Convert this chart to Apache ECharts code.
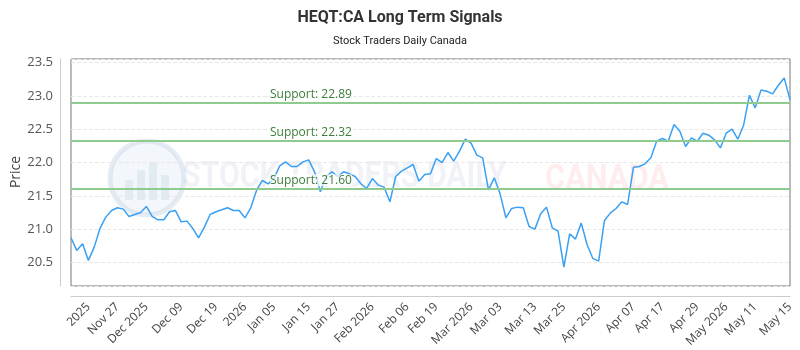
<!DOCTYPE html>
<html>
<head>
<meta charset="utf-8">
<title>HEQT:CA Long Term Signals</title>
<script src="https://cdn.jsdelivr.net/npm/echarts@6/dist/echarts.min.js"></script>
<style>
html, body { margin: 0; padding: 0; background: #fff; }
#main { width: 800px; height: 350px; }
</style>
</head>
<body>
<div id="main"></div>
<script>
// 价格数据 (one point per trading session)
var prices = [
    20.87, 20.68, 20.78, 20.53, 20.73, 21.01, 21.18, 21.28, 21.32, 21.30,
    21.19, 21.22, 21.25, 21.34, 21.19, 21.14, 21.14, 21.26, 21.28, 21.11,
    21.12, 21.01, 20.87, 21.03, 21.22, 21.26, 21.29, 21.32, 21.28, 21.28,
    21.17, 21.32, 21.58, 21.73, 21.68, 21.76, 21.95, 22.01, 21.94, 21.94,
    22.01, 22.04, 21.86, 21.56, 21.79, 21.86, 21.79, 21.86, 21.83, 21.79,
    21.68, 21.61, 21.76, 21.66, 21.63, 21.41, 21.79, 21.87, 21.92, 21.97,
    21.72, 21.82, 21.83, 22.06, 22.00, 22.15, 22.02, 22.17, 22.35, 22.29,
    22.11, 22.07, 21.59, 21.77, 21.53, 21.17, 21.31, 21.33, 21.32, 21.04,
    21.00, 21.23, 21.33, 21.02, 20.97, 20.43, 20.93, 20.85, 21.09, 20.77,
    20.56, 20.52, 21.13, 21.24, 21.31, 21.41, 21.37, 21.93, 21.94, 21.98,
    22.07, 22.32, 22.36, 22.32, 22.57, 22.47, 22.24, 22.37, 22.32, 22.44,
    22.41, 22.34, 22.22, 22.44, 22.50, 22.35, 22.56, 23.01, 22.82, 23.09,
    23.07, 23.03, 23.16, 23.27, 22.94
];

// x轴标签: which session carries which label
var tickLabels = ['2025', 'Nov 27', 'Dec 2025', 'Dec 09', 'Dec 19', '2026', 'Jan 05', 'Jan 15', 'Jan 27',
    'Feb 2026', 'Feb 06', 'Feb 19', 'Mar 2026', 'Mar 03', 'Mar 13', 'Mar 25', 'Apr 2026', 'Apr 07',
    'Apr 17', 'Apr 29', 'May 2026', 'May 11', 'May 15'];
var tickIndex = [3, 8, 13, 19, 25, 30, 35, 41, 46, 52, 58, 63, 69, 74, 80, 85, 91, 97, 102, 108, 113, 118, 124];

// 支撑位
var supports = [22.89, 22.32, 21.60];

var categories = prices.map(function (v, i) { return String(i); });

var myChart = echarts.init(document.getElementById('main'), null, { renderer: 'canvas' });

var option = {
    animation: false,
    backgroundColor: '#fff',
    title: {
        text: 'HEQT:CA Long Term Signals',
        subtext: 'Stock Traders Daily Canada',
        left: 'center',
        top: 5,
        itemGap: 10,
        textStyle: { fontFamily: 'Roboto', fontSize: 16, fontWeight: 'bold', color: '#333' },
        subtextStyle: { fontFamily: 'Roboto', fontSize: 11, color: '#222' }
    },
    graphic: [
        // y轴名称
        { type: 'text', z: 5, x: 16, y: 172, rotation: Math.PI / 2,
          style: { text: 'Price', font: '14px "Open Sans"', fill: '#444', align: 'center', verticalAlign: 'middle' } },
        // 水印
        { type: 'circle', z: 0, shape: { cx: 147, cy: 178, r: 37 },
          style: { fill: 'rgba(215,225,238,0.3)', stroke: 'rgba(200,212,230,0.45)', lineWidth: 5 } },
        { type: 'rect', z: 0, shape: { x: 125, y: 180, width: 8, height: 20 }, style: { fill: 'rgba(190,205,225,0.3)' } },
        { type: 'rect', z: 0, shape: { x: 137, y: 170, width: 8, height: 30 }, style: { fill: 'rgba(190,205,225,0.3)' } },
        { type: 'rect', z: 0, shape: { x: 149, y: 162, width: 8, height: 38 }, style: { fill: 'rgba(190,205,225,0.3)' } },
        { type: 'rect', z: 0, shape: { x: 161, y: 175, width: 8, height: 25 }, style: { fill: 'rgba(190,205,225,0.3)' } },
        { type: 'text', z: 0, x: 182, y: 178, scaleX: 0.84,
          style: { text: 'STOCK TRADERS DAILY', font: 'bold 36px Roboto', fill: 'rgba(200,210,225,0.28)', verticalAlign: 'middle' } },
        { type: 'text', z: 0, x: 545, y: 180, scaleX: 0.88,
          style: { text: 'CANADA', font: 'bold 35px Roboto', fill: 'rgba(255,190,190,0.28)', verticalAlign: 'middle' } }
    ],
    grid: {
        show: true,
        left: 71,
        right: 10,
        top: 59,
        bottom: 64,
        outerBoundsMode: 'none',
        containLabel: false,
        borderColor: '#777',
        borderWidth: 1
    },
    xAxis: {
        type: 'category',
        data: categories,
        boundaryGap: false,
        offset: 10,
        axisLine: { lineStyle: { color: '#ccc' } },
        axisTick: { show: false },
        splitLine: { show: false },
        axisLabel: {
            rotate: 45,
            margin: 9,
            fontFamily: 'Open Sans',
            fontSize: 12,
            color: '#444',
            interval: function (idx) { return tickIndex.indexOf(idx) >= 0; },
            formatter: function (val, idx) { return tickLabels[tickIndex.indexOf(idx)]; }
        }
    },
    yAxis: {
        type: 'value',
        min: function (v) { return v.min - (v.max - v.min) * 0.1; },
        max: function (v) { return v.max + (v.max - v.min) * 0.1; },
        offset: 11,
        axisLine: { show: true, lineStyle: { color: '#ccc' } },
        axisTick: { show: false },
        axisLabel: {
            showMinLabel: false,
            showMaxLabel: false,
            margin: 7,
            fontFamily: 'Open Sans',
            fontSize: 13,
            color: '#555',
            formatter: function (v) { return v.toFixed(1); }
        },
        splitLine: { lineStyle: { color: '#e8e8e8', type: 'dashed' } }
    },
    series: [
        {
            name: 'HEQT:CA',
            type: 'line',
            data: prices,
            showSymbol: false,
            z: 3,
            lineStyle: { color: '#3aa0f3', width: 1.5 },
            itemStyle: { color: '#3aa0f3' },
            markLine: {
                silent: true,
                symbol: 'none',
                lineStyle: { color: '#8fcb8f', width: 2, type: 'solid' },
                label: {
                    position: 'insideStartTop',
                    distance: [199, 3],
                    fontFamily: 'Open Sans',
                    fontSize: 12,
                    color: '#3c7d3c',
                    backgroundColor: 'rgba(255,255,255,0.7)',
                    formatter: function (p) { return 'Support: ' + p.value.toFixed(2); }
                },
                data: supports.map(function (s) { return { yAxis: s }; })
            }
        }
    ]
};

myChart.setOption(option);
</script>
</body>
</html>
